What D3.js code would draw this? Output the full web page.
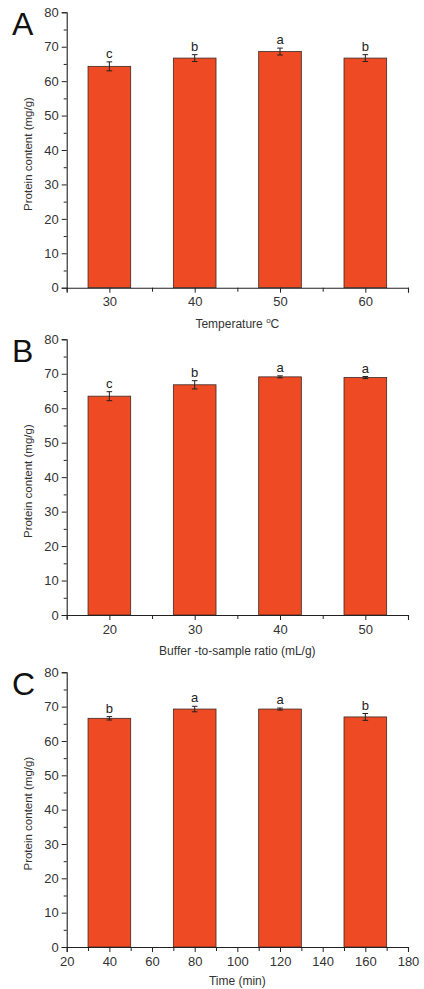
<!DOCTYPE html>
<html><head><meta charset="utf-8">
<script src="https://cdn.jsdelivr.net/npm/d3@7"></script>
<style>
html,body{margin:0;padding:0;background:#fff;}
svg{display:block;font-family:"Liberation Sans",Arial,sans-serif;}
</style></head>
<body>
<svg id="chart" width="424" height="989"></svg>
<script>
// Panel A: temperature
const catsA = [30, 40, 50, 60];
const valsA = [64.3, 66.7, 68.6, 66.7];
const errA  = [1.3, 1.0, 1.0, 1.0];
const letA  = ["c", "b", "a", "b"];
// Panel B: buffer-to-sample ratio
const catsB = [20, 30, 40, 50];
const valsB = [63.5, 66.8, 69.1, 68.9];
const errB  = [1.3, 1.2, 0.3, 0.3];
const letB  = ["c", "b", "a", "a"];
// Panel C: time
const catsC = [40, 80, 120, 160];
const valsC = [66.6, 69.3, 69.3, 67.0];
const errC  = [0.5, 0.8, 0.3, 1.0];
const letC  = ["b", "a", "a", "b"];
const yTicks = [0, 10, 20, 30, 40, 50, 60, 70, 80];

const svg = d3.select("#chart");
const X0 = 66.7, X1 = 408;
const barColor = "#EE4A24";

const panels = [
  {letter: "A", cats: catsA, vals: valsA, err: errA, lets: letA, top: 12.3, bottom: 287.7,
   xdom: [25, 65], barW: 5, major: catsA, minor: [25, 35, 45, 55, 65], title: "temp"},
  {letter: "B", cats: catsB, vals: valsB, err: errB, lets: letB, top: 339.3, bottom: 615,
   xdom: [15, 55], barW: 5, major: catsB, minor: [15, 25, 35, 45, 55], title: "Buffer -to-sample ratio (mL/g)"},
  {letter: "C", cats: catsC, vals: valsC, err: errC, lets: letC, top: 672.3, bottom: 947,
   xdom: [20, 180], barW: 20, major: d3.range(20, 181, 20), minor: d3.range(30, 180, 20), title: "Time (min)"}
];

panels.forEach(p => {
  const g = svg.append("g");
  const x = d3.scaleLinear().domain(p.xdom).range([X0, X1]);
  const y = d3.scaleLinear().domain([0, 80]).range([p.bottom, p.top]);

  // bars
  g.selectAll("rect.bar").data(p.cats).join("rect")
    .attr("class", "bar")
    .attr("x", (d) => x(d - p.barW / 2))
    .attr("width", (d) => x(d + p.barW / 2) - x(d - p.barW / 2))
    .attr("y", (d, i) => y(p.vals[i]))
    .attr("height", (d, i) => y(0) - y(p.vals[i]))
    .attr("fill", barColor)
    .attr("stroke", "#3a2a25")
    .attr("stroke-width", 0.8);

  // error bars
  const eb = g.selectAll("g.eb").data(p.cats).join("g").attr("class", "eb");
  eb.append("line")
    .attr("x1", d => x(d)).attr("x2", d => x(d))
    .attr("y1", (d, i) => y(p.vals[i] - p.err[i]))
    .attr("y2", (d, i) => y(p.vals[i] + p.err[i]))
    .attr("stroke", "#222").attr("stroke-width", 1);
  [-1, 1].forEach(s => {
    eb.append("line")
      .attr("x1", d => x(d) - 2.8).attr("x2", d => x(d) + 2.8)
      .attr("y1", (d, i) => y(p.vals[i] + s * p.err[i]))
      .attr("y2", (d, i) => y(p.vals[i] + s * p.err[i]))
      .attr("stroke", "#222").attr("stroke-width", 1);
  });
  // significance letters
  g.selectAll("text.sig").data(p.cats).join("text")
    .attr("class", "sig")
    .attr("x", d => x(d))
    .attr("y", (d, i) => y(p.vals[i] + p.err[i]) - 4)
    .attr("text-anchor", "middle")
    .attr("font-size", 13).attr("fill", "#222")
    .text((d, i) => p.lets[i]);

  // y axis
  const yAx = g.append("g").attr("transform", `translate(${X0},0)`)
    .call(d3.axisLeft(y).tickValues(yTicks).tickSize(5).tickPadding(3).tickFormat(d3.format("d")));
  g.append("g").attr("transform", `translate(${X0},0)`)
    .call(d3.axisLeft(y).tickValues(d3.range(5, 80, 10)).tickSize(3).tickFormat(""))
    .call(a => a.select(".domain").remove());
  // x axis
  const xAx = g.append("g").attr("transform", `translate(0,${p.bottom})`)
    .call(d3.axisBottom(x).tickValues(p.major).tickSize(5).tickPadding(4.5).tickFormat(d3.format("d")));
  g.append("g").attr("transform", `translate(0,${p.bottom})`)
    .call(d3.axisBottom(x).tickValues(p.minor).tickSize(4).tickFormat(""))
    .call(a => a.select(".domain").remove());

  g.selectAll(".domain").attr("stroke", "#222").attr("stroke-width", 1.1);
  g.selectAll(".tick line").attr("stroke", "#222").attr("stroke-width", 1);
  g.selectAll(".tick text").attr("font-size", 13).attr("fill", "#333")
    .attr("font-family", "'Liberation Sans', Arial, sans-serif");

  // y title
  g.append("text")
    .attr("transform", `translate(32,${(p.top + p.bottom) / 2 + 4}) rotate(-90)`)
    .attr("text-anchor", "middle")
    .attr("font-size", 11.5).attr("fill", "#333")
    .text("Protein content (mg/g)");

  // x title
  const xt = g.append("text")
    .attr("x", (X0 + X1) / 2)
    .attr("y", p.bottom + (p.letter === "C" ? 38 : 40))
    .attr("text-anchor", "middle")
    .attr("font-size", 12).attr("fill", "#333");
  if (p.title === "temp") {
    xt.append("tspan").text("Temperature ");
    xt.append("tspan").attr("font-size", 8).attr("dy", -5).text("o");
    xt.append("tspan").attr("dy", 5).text("C");
  } else {
    xt.text(p.title);
  }

  // panel letter
  g.append("text")
    .attr("x", 12).attr("y", p.top + 23)
    .attr("font-size", 32).attr("fill", "#111")
    .text(p.letter);
});
</script>
</body></html>
